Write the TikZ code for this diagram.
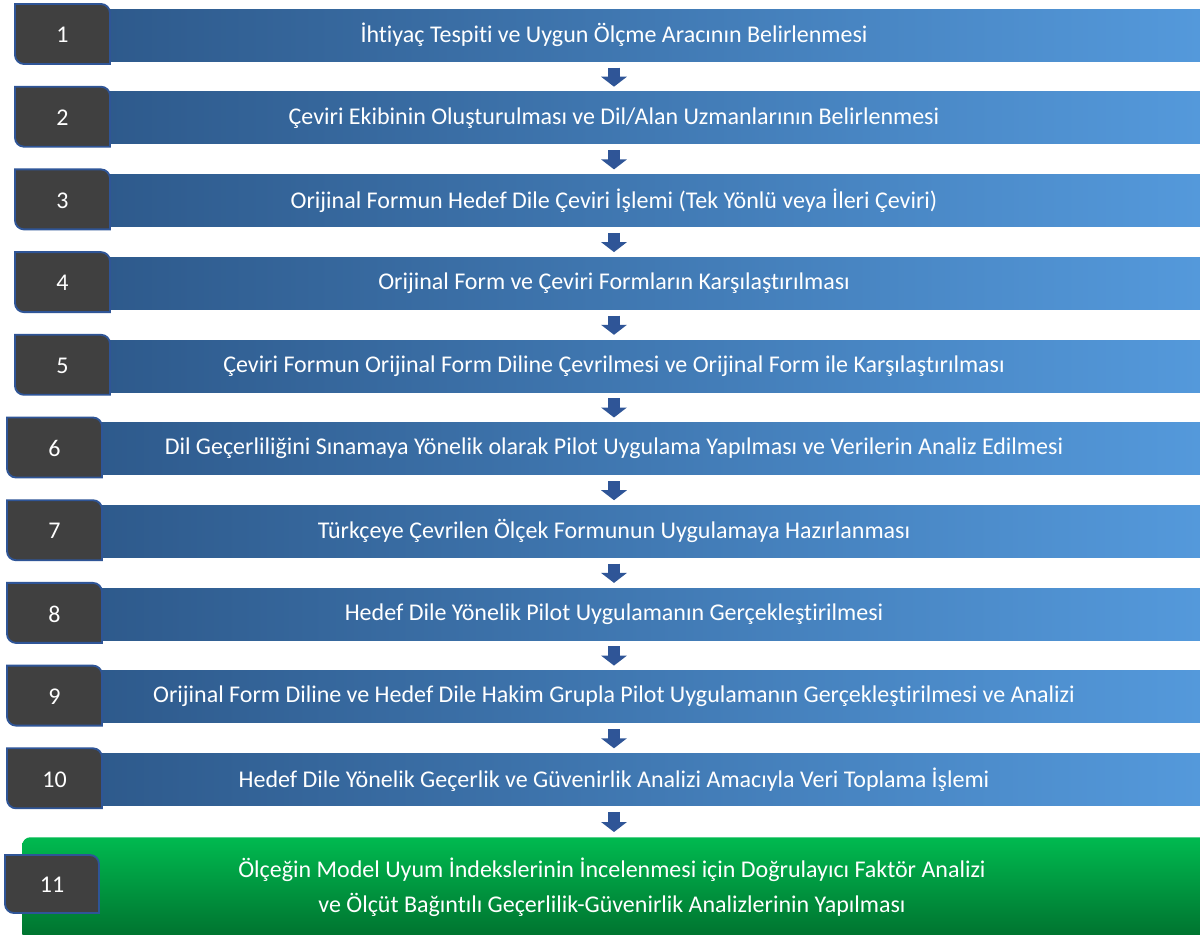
\documentclass[tikz,border=0pt]{standalone}
\usepackage{fontspec}
\setmainfont{Carlito}[Ligatures=NoCommon]
\usepackage{xcolor}
\usepackage{tikz}
\usetikzlibrary{arrows.meta}

\definecolor{barleft}{RGB}{46,90,140}
\definecolor{barright}{RGB}{84,153,219}
\definecolor{boxgray}{RGB}{64,64,64}
\definecolor{boxline}{RGB}{47,85,151}
\definecolor{greentop}{RGB}{0,186,80}
\definecolor{greenbottom}{RGB}{0,104,42}

\begin{document}
\begin{tikzpicture}[x=0.75pt,y=0.75pt,
		stepbar/.style={rectangle, inner sep=0pt, anchor=north west,
			minimum height=39pt, left color=barleft, right color=barright},
		steptext/.style={text=white, font=\fontsize{18}{21}\selectfont},
		numtext/.style={text=white, font=\fontsize{18}{21}\selectfont, inner sep=0pt},
		numbox/.style={fill=boxgray, draw=boxline, line width=1.4pt},
		flowarrow/.style={draw=boxline, line width=9pt,
			-{Triangle[width=19pt,length=7.5pt]}, shorten <=4.5pt, shorten >=3.75pt}]
	\useasboundingbox (0,0) rectangle (1200,-935);
	\fill[white] (0,0) rectangle (1200,-935);
	% steps 1 to 10
	\foreach \i/\txt in {%
		1/{İhtiyaç Tespiti ve Uygun Ölçme Aracının Belirlenmesi},
		2/{Çeviri Ekibinin Oluşturulması ve Dil/Alan Uzmanlarının Belirlenmesi},
		3/{Orijinal Formun Hedef Dile Çeviri İşlemi (Tek Yönlü veya İleri Çeviri)},
		4/{Orijinal Form ve Çeviri Formların Karşılaştırılması},
		5/{Çeviri Formun Orijinal Form Diline Çevrilmesi ve Orijinal Form ile Karşılaştırılması},
		6/{Dil Geçerliliğini Sınamaya Yönelik olarak Pilot Uygulama Yapılması ve Verilerin Analiz Edilmesi},
		7/{Türkçeye Çevrilen Ölçek Formunun Uygulamaya Hazırlanması},
		8/{Hedef Dile Yönelik Pilot Uygulamanın Gerçekleştirilmesi},
		9/{Orijinal Form Diline ve Hedef Dile Hakim Grupla Pilot Uygulamanın Gerçekleştirilmesi ve Analizi},
		10/{Hedef Dile Yönelik Geçerlik ve Güvenirlik Analizi Amacıyla Veri Toplama İşlemi}} {
		\pgfmathsetmacro\ytop{9+(\i-1)*82.7}
		\pgfmathsetmacro\xbar{\i<6 ? 108 : 100}
		\pgfmathsetmacro\xbox{\i<6 ? 15 : 7}
		\node[stepbar, minimum width={(1200-\xbar)*0.75pt}] (bar\i) at (\xbar,-\ytop) {};
		\draw[numbox] (\xbox,-\ytop+5) -- (\xbox+86,-\ytop+5)
			arc[start angle=90, end angle=0, radius=6.75pt] -- (\xbox+95,-\ytop-55)
			-- (\xbox+9,-\ytop-55) arc[start angle=270, end angle=180, radius=6.75pt] -- cycle;
		\node[numtext] (num\i) at (\xbox+47.5,-\ytop-26) {\i};
		\node[steptext] (step\i) at (614,-\ytop-26) {\txt};
	}
	% last step
	\node[rectangle, inner sep=0pt, anchor=north west, rounded corners=6pt,
		minimum width=900pt, minimum height=86pt,
		top color=greentop, bottom color=greenbottom] (bar11) at (22,-837) {};
	\draw[numbox] (5,-855) -- (90,-855) arc[start angle=90, end angle=0, radius=6.75pt]
		-- (99,-913) -- (14,-913) arc[start angle=270, end angle=180, radius=6.75pt] -- cycle;
	\node[numtext] (num11) at (52,-885) {11};
	\node[steptext, align=center, font=\fontsize{18}{26}\selectfont] (step11) at (612,-887)
		{Ölçeğin Model Uyum İndekslerinin İncelenmesi için Doğrulayıcı Faktör Analizi\\
		ve Ölçüt Bağıntılı Geçerlilik-Güvenirlik Analizlerinin Yapılması};
	% arrows
	\foreach \i [evaluate=\i as \j using int(\i+1)] in {1,...,10}
		\draw[flowarrow] (bar\i.south -| step\i) -- (bar\j.north -| step\i);
\end{tikzpicture}
\end{document}
